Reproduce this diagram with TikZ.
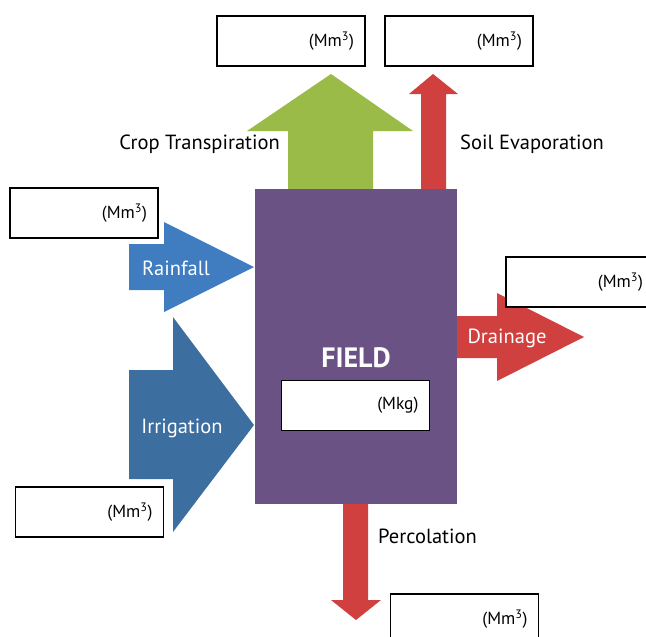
\documentclass[tikz,border=0pt]{standalone}
\usepackage{fontspec}
\setmainfont{PT Sans}
\definecolor{fieldpurple}{RGB}{106,82,132}
\definecolor{cropgreen}{RGB}{155,187,72}
\definecolor{lossred}{RGB}{208,64,62}
\definecolor{rainblue}{RGB}{64,124,192}
\definecolor{irrblue}{RGB}{61,110,160}
\def\mmc{(Mm\textsuperscript{3})}

\begin{document}
\begin{tikzpicture}[x=1pt,y=-1pt]
	\tikzstyle{flow label}=[font=\fontsize{20.5}{24}\selectfont, inner sep=0pt]
	\tikzstyle{inner label}=[flow label, text=white]
	\tikzstyle{valbox}=[draw=black, line width=1.3pt, fill=white, minimum width=148pt, minimum height=50pt, inner sep=0pt, text width=126pt, align=right, font=\fontsize{17.5}{20}\selectfont]
	\tikzstyle{field}=[fill=fieldpurple, minimum width=202pt, minimum height=315pt, inner sep=0pt]

	\clip (0,0) rectangle (646,637);

	% Draw the flows leaving at the top
	\fill[cropgreen] (288,189) -- (288,131) -- (247,131) -- (331,74) -- (413,131) -- (373,131) -- (373,189) -- cycle;
	\fill[lossred] (421,189) -- (421,94) -- (409,94) -- (433,74) -- (458,94) -- (446,94) -- (446,189) -- cycle;

	% Draw the flows coming in from the left
	\fill[rainblue] (129,244) -- (164,244) -- (164,222) -- (254,267) -- (164,312) -- (164,290) -- (129,290) -- cycle;
	\fill[irrblue] (129,370) -- (173,370) -- (173,317) -- (254,425) -- (173,532) -- (173,479) -- (129,479) -- cycle;

	% Draw the flows leaving right and down
	\fill[lossred] (457,316) -- (497,316) -- (497,293) -- (584,337) -- (497,381) -- (497,358) -- (457,358) -- cycle;
	\fill[lossred] (343,504) -- (343,600) -- (331,600) -- (356,620) -- (381,600) -- (368,600) -- (368,504) -- cycle;

	% The field itself
	\node[field] (F) at (356,346.5) {};
	\node[font=\fontsize{28}{32}\selectfont\bfseries, text=white] (FL) at (356,358) {FIELD};
	\node[valbox] (F-val) at (355.5,405.5) {(Mkg)};

	% Flow names
	\node[flow label, anchor=east] (ET) at (280,144) {Crop Transpiration};
	\node[flow label, anchor=west] (EV) at (460,144) {Soil Evaporation};
	\node[inner label] (RF) at (176,268) {Rainfall};
	\node[inner label] (IR) at (182,428) {Irrigation};
	\node[inner label] (DR) at (507,338) {Drainage};
	\node[flow label, anchor=west] (PC) at (378,536) {Percolation};

	% Value boxes
	\node[valbox] (ET-val) at (291,41) {\mmc};
	\node[valbox] (EV-val) at (459,41) {\mmc};
	\node[valbox] (RF-val) at (84,213) {\mmc};
	\node[valbox] (IR-val) at (89.5,512) {\mmc};
	\node[valbox] (DR-val) at (580,282) {\mmc};
	\node[valbox] (PC-val) at (464.5,619) {\mmc};
\end{tikzpicture}
\end{document}
